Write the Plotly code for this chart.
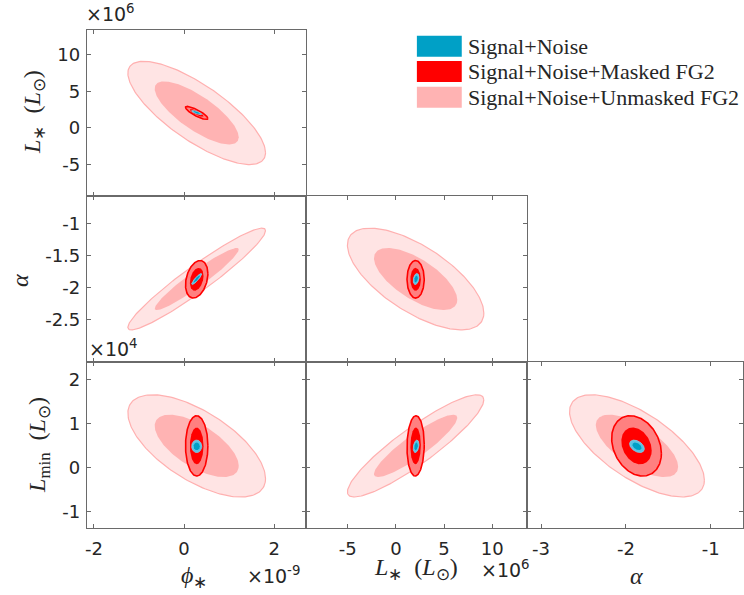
import numpy as np
import plotly.graph_objects as go

# ---------------- data (axis units: phi x1e-9, L* x1e6, Lmin x1e4) ----------------
param_names = ["phi", "Lstar", "alpha", "Lmin"]
series_names = ["Signal+Noise+Unmasked FG2", "Signal+Noise+Masked FG2", "Signal+Noise"]

centre_unmasked = [0.28, 2.05, -1.87, 0.49]
centre_masked = [0.28, 2.05, -1.875, 0.49]
centre_signal = [0.28, 2.10, -1.87, 0.48]

sigma_unmasked = [0.615, 2.85, 0.32, 0.466]
sigma_masked = [0.10, 0.36, 0.118, 0.275]
sigma_signal = [0.045, 0.12, 0.035, 0.057]

# pair order: (phi,L*), (phi,alpha), (phi,Lmin), (L*,alpha), (L*,Lmin), (alpha,Lmin)
pairs = [(0, 1), (0, 2), (0, 3), (1, 2), (1, 3), (2, 3)]
rho_unmasked = [-0.77, 0.95, -0.64, -0.67, 0.90, -0.67]
rho_masked = [-0.85, 0.30, 0.0, 0.0, 0.05, -0.25]
rho_signal = [-0.80, 0.90, 0.0, 0.30, 0.30, -0.40]

# contour levels (delta chi^2 for 95% and 68% in 2D)
dchi2 = [6.17, 2.30]

x_ticks = {1: [-2, 0, 2], 2: [-5, 0, 5, 10], 3: [-3, -2, -1]}
y_ticks = {1: [-5, 0, 5, 10], 2: [-2.5, -2, -1.5, -1], 3: [-1, 0, 1, 2]}
x_ranges = {1: [-2.16, 2.71], 2: [-9.31, 13.62], 3: [-3.165, -0.62]}
y_ranges = {1: [-9.34, 13.42], 2: [-3.167, -0.573], 3: [-1.37, 2.39]}
exp_labels = ["×10<sup>6</sup>", "×10<sup>4</sup>", "×10<sup>-9</sup>", "×10<sup>6</sup>"]

# ---------------- styling ----------------
W, H = 744, 595
fill_cols = {
    "unmasked": ["#FFE4E4", "#FFB3B3"],
    "masked": ["#FF8080", "#FF0000"],
    "signal": ["#5CC3E3", "#00A0C6"],
}
line_cols = {
    "unmasked": ["#FFB0B0", "rgba(0,0,0,0)"],
    "masked": ["#FF0000", "rgba(0,0,0,0)"],
    "signal": ["#7FD3EC", "rgba(0,0,0,0)"],
}
line_w = {"unmasked": [1.2, 0], "masked": [1.6, 0], "signal": [0.8, 0]}

col_dom = {1: [85 / W, 305 / W], 2: [305 / W, 526.5 / W], 3: [526.5 / W, 743 / W]}
row_dom = {1: [1 - 196 / H, 1 - 30 / H], 2: [1 - 362 / H, 1 - 196 / H], 3: [1 - 528 / H, 1 - 362 / H]}

tick_font = dict(family="DejaVu Sans", size=18, color="#262626")
serif = "Liberation Serif"


def ellipse(c, s, rho, i, j, k2):
    cov = np.array([[s[i] ** 2, rho * s[i] * s[j]], [rho * s[i] * s[j], s[j] ** 2]])
    L = np.linalg.cholesky(cov)
    t = np.linspace(0, 2 * np.pi, 200)
    pts = np.sqrt(k2) * (L @ np.vstack([np.cos(t), np.sin(t)]))
    return c[i] + pts[0], c[j] + pts[1]


fig = go.Figure()
series = [
    ("unmasked", centre_unmasked, sigma_unmasked, rho_unmasked, series_names[0]),
    ("masked", centre_masked, sigma_masked, rho_masked, series_names[1]),
    ("signal", centre_signal, sigma_signal, rho_signal, series_names[2]),
]

layout_axes = {}
for p, (i, j) in enumerate(pairs, start=1):
    col, row = i + 1, j
    xa = "x" if p == 1 else f"x{p}"
    ya = "y" if p == 1 else f"y{p}"
    for key, c, s, rh, name in series:
        for lv in range(2):
            ex, ey = ellipse(c, s, rh[p - 1], i, j, dchi2[lv])
            fig.add_trace(go.Scatter(
                x=ex, y=ey, mode="lines", fill="toself",
                fillcolor=fill_cols[key][lv],
                line=dict(color=line_cols[key][lv], width=line_w[key][lv]),
                name=name, showlegend=False, hoverinfo="skip",
                xaxis=xa, yaxis=ya,
            ))
    common = dict(showgrid=False, zeroline=False, showline=True, linecolor="#6A6A6A",
                  linewidth=0.8, mirror="ticks", ticks="inside", ticklen=4,
                  tickcolor="#6A6A6A", tickwidth=0.8, tickfont=tick_font)
    xname = "xaxis" if p == 1 else f"xaxis{p}"
    yname = "yaxis" if p == 1 else f"yaxis{p}"
    layout_axes[xname] = dict(common, domain=col_dom[col], range=x_ranges[col],
                              anchor=ya, tickvals=x_ticks[col],
                              ticktext=[f"{v:g}" for v in x_ticks[col]],
                              showticklabels=(row == 3), ticklabelstandoff=4)
    layout_axes[yname] = dict(common, domain=row_dom[row], range=y_ranges[row],
                              anchor=xa, tickvals=y_ticks[row],
                              ticktext=[f"{v:g}" for v in y_ticks[row]],
                              showticklabels=(col == 1), ticklabelstandoff=2)

fig.update_layout(**layout_axes)

ann = []


def px(x):
    return x / W


def py(y):
    return 1 - y / H


# axis titles
tf = dict(family=serif, size=24, color="#262626")
ann.append(dict(x=px(32), y=py(112), text="<i>L</i><sub>∗</sub>  (<i>L</i><sub>⊙</sub>)",
                textangle=-90, font=tf))
ann.append(dict(x=px(18), y=py(280), text="<i>α</i>", textangle=-90, font=tf))
ann.append(dict(x=px(37), y=py(445), text="<i>L</i><sub>min</sub>  (<i>L</i><sub>⊙</sub>)",
                textangle=-90, font=tf))
ann.append(dict(x=px(193), y=py(577), text="<i>ϕ</i><sub>∗</sub>", font=tf))
ann.append(dict(x=px(415), y=py(569), text="<i>L</i><sub>∗</sub>  (<i>L</i><sub>⊙</sub>)", font=tf))
ann.append(dict(x=px(636), y=py(576), text="<i>α</i>", font=tf))

# exponent labels
ef = dict(family="DejaVu Sans", size=19, color="#262626")
ann.append(dict(x=px(82), y=py(13), text=exp_labels[0], xanchor="left", font=ef))
ann.append(dict(x=px(85), y=py(348), text=exp_labels[1], xanchor="left", font=ef))
ann.append(dict(x=px(244), y=py(575), text=exp_labels[2], xanchor="left", font=ef))
ann.append(dict(x=px(478), y=py(569), text=exp_labels[3], xanchor="left", font=ef))

# legend (boxes + labels)
shapes = []
leg_cols = ["#00A0C6", "#FF0000", "#FFB3B3"]
leg_text = [series_names[2], series_names[1], series_names[0]]
leg_top = [35.7, 61.0, 86.7]
for k in range(3):
    shapes.append(dict(type="rect", xref="paper", yref="paper",
                       x0=px(416), x1=px(461), y0=py(leg_top[k] + 21), y1=py(leg_top[k]),
                       fillcolor=leg_cols[k], line=dict(width=0)))
    ann.append(dict(x=px(465), y=py(leg_top[k] + 10.5), text=leg_text[k], xanchor="left",
                    font=dict(family=serif, size=22, color="#262626")))

for a in ann:
    a.setdefault("xref", "paper")
    a.setdefault("yref", "paper")
    a.setdefault("showarrow", False)
    a.setdefault("xanchor", "center")
    a.setdefault("yanchor", "middle")

fig.update_layout(
    width=W, height=H, margin=dict(l=0, r=0, t=0, b=0),
    paper_bgcolor="white", plot_bgcolor="rgba(0,0,0,0)",
    annotations=ann, shapes=shapes, showlegend=False,
)

fig.write_html("out.html")
